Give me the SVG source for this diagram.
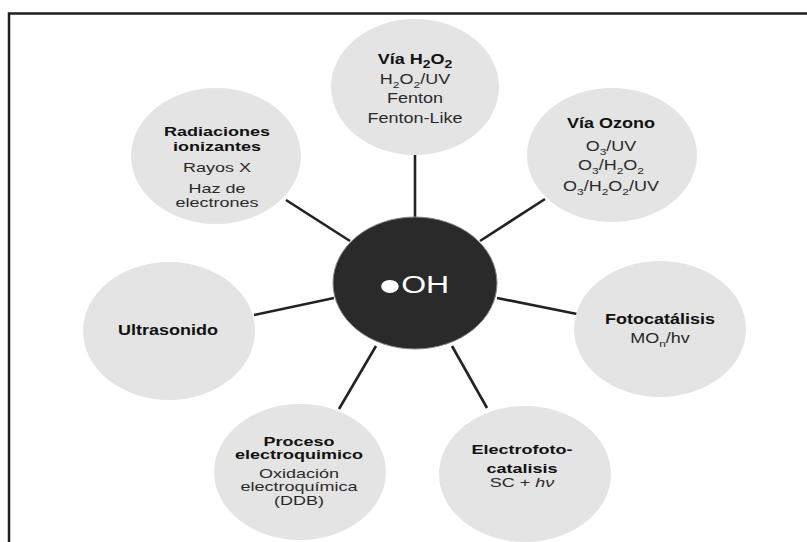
<svg xmlns="http://www.w3.org/2000/svg" width="807" height="542" viewBox="0 0 807 542">
<style>
.bg{fill:#ffffff}
.frame{fill:none;stroke:#1e1e1e;stroke-width:2.5}
.node ellipse{fill:#e4e4e4}
.hub ellipse{fill:#2a2a2a;stroke:#8a8a8a;stroke-width:1}
.conn line{stroke:#222;stroke-width:2.6}
text{font-family:"Liberation Sans",Arial,sans-serif;text-anchor:middle;font-size:18px;fill:#2a2a2a}
.b{font-weight:bold;fill:#111}
.hubt{fill:#ffffff;font-size:32px}
</style>
<rect class="bg" x="0" y="0" width="807" height="542"/>
<polyline class="frame" points="9,542 9,13.5 807,13.5"/>
<g id="connectors" class="conn">
<line x1="415" y1="155" x2="415" y2="217"/>
<line x1="286" y1="200" x2="350" y2="241"/>
<line x1="545" y1="199" x2="480" y2="241"/>
<line x1="254" y1="315" x2="334" y2="298"/>
<line x1="497" y1="298" x2="577" y2="314"/>
<line x1="376" y1="346" x2="339" y2="409"/>
<line x1="452" y1="346" x2="487" y2="408"/>
</g>
<g id="hub" class="hub">
<ellipse cx="415" cy="283" rx="82" ry="66"/>
<g transform="scale(1,0.75)"><text class="hubt" x="414" y="390.7"><tspan font-size="64" dy="12">•</tspan><tspan dy="-12">OH</tspan></text></g>
</g>
<g id="via-h2o2" class="node">
<ellipse cx="415" cy="87" rx="84" ry="68"/>
<g transform="scale(1,0.8)">
<text class="b" x="415" y="80" font-size="20">Vía H<tspan font-size="14" dy="5">2</tspan><tspan dy="-5">O</tspan><tspan font-size="14" dy="5">2</tspan></text>
<text x="415" y="105">H<tspan font-size="12" dy="5">2</tspan><tspan dy="-5">O</tspan><tspan font-size="12" dy="5">2</tspan><tspan dy="-5">/UV</tspan></text>
<text x="415" y="128.75">Fenton</text>
<text x="415" y="153.75">Fenton-Like</text>
</g>
</g>
<g id="radiaciones" class="node">
<ellipse cx="216" cy="156" rx="85" ry="68"/>
<g transform="scale(1,0.72)">
<text class="b" x="217" y="188.9">Radiaciones</text>
<text class="b" x="217" y="209.7">ionizantes</text>
<text x="217" y="238.9">Rayos X</text>
<text x="217" y="268.1">Haz de</text>
<text x="217" y="287.5">electrones</text>
</g>
</g>
<g id="via-ozono" class="node">
<ellipse cx="612" cy="155" rx="85" ry="67"/>
<g transform="scale(1,0.8)">
<text class="b" x="611" y="160">Vía Ozono</text>
<text x="611" y="188.75">O<tspan font-size="12" dy="5">3</tspan><tspan dy="-5">/UV</tspan></text>
<text x="611" y="212.5">O<tspan font-size="12" dy="5">3</tspan><tspan dy="-5">/H</tspan><tspan font-size="12" dy="5">2</tspan><tspan dy="-5">O</tspan><tspan font-size="12" dy="5">2</tspan></text>
<text x="611" y="238.75">O<tspan font-size="12" dy="5">3</tspan><tspan dy="-5">/H</tspan><tspan font-size="12" dy="5">2</tspan><tspan dy="-5">O</tspan><tspan font-size="12" dy="5">2</tspan><tspan dy="-5">/UV</tspan></text>
</g>
</g>
<g id="ultrasonido" class="node">
<ellipse cx="169" cy="331" rx="86" ry="69"/>
<g transform="scale(1,0.8)">
<text class="b" x="168" y="418.75" font-size="19.5">Ultrasonido</text>
</g>
</g>
<g id="fotocatalisis" class="node">
<ellipse cx="660" cy="329" rx="86" ry="68"/>
<g transform="scale(1,0.8)">
<text class="b" x="660" y="405">Fotocatálisis</text>
<text x="660" y="428.75">MO<tspan font-size="12" dy="5">n</tspan><tspan dy="-5">/hv</tspan></text>
</g>
</g>
<g id="proceso" class="node">
<ellipse cx="300" cy="472" rx="86" ry="68"/>
<g transform="scale(1,0.72)">
<text class="b" x="299" y="619.4" font-size="16.3">Proceso</text>
<text class="b" x="299" y="637.5" font-size="16.3">electroquimico</text>
<text x="299" y="663.9" font-size="16.3">Oxidación</text>
<text x="299" y="681.9" font-size="16.3">electroquímica</text>
<text x="299" y="701.4" font-size="16.3">(DDB)</text>
</g>
</g>
<g id="electrofotocatalisis" class="node">
<ellipse cx="525" cy="474" rx="86" ry="68"/>
<g transform="scale(1,0.72)">
<text class="b" x="522" y="630.6">Electrofoto-</text>
<text class="b" x="522" y="656.9">catalisis</text>
<text x="522" y="676.4">SC + <tspan font-style="italic">hν</tspan></text>
</g>
</g>
</svg>
